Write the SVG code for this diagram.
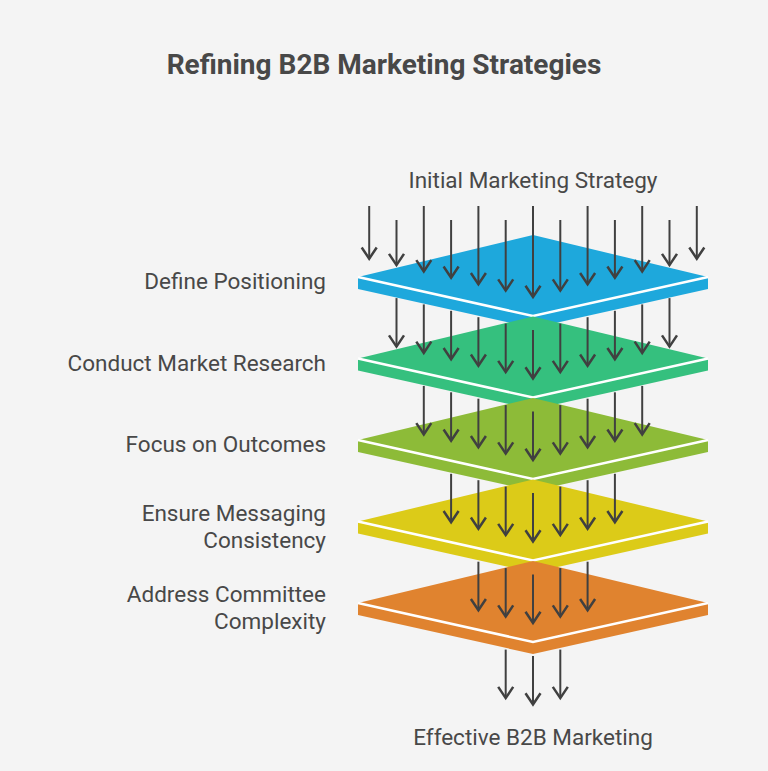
<svg xmlns="http://www.w3.org/2000/svg" width="768" height="771" viewBox="0 0 768 771">
<style>
text{font-family:Roboto,"Liberation Sans",sans-serif;fill:#484848}
.t{font-size:28px;font-weight:bold;text-anchor:middle}
.l{font-size:22.5px;text-anchor:end}
.c{font-size:22.5px;text-anchor:middle}
.a line{stroke:#404040;stroke-width:2;marker-end:url(#ah)}
.edge{fill:none;stroke:#fff;stroke-width:2.5}
</style>
<defs>
<marker id="ah" markerUnits="userSpaceOnUse" markerWidth="20" markerHeight="20" refX="0" refY="0" viewBox="-12 -8 14 16" orient="auto">
<path d="M-9,-6 L0,0 L-9,6" fill="none" stroke="#404040" stroke-width="2"/>
</marker>
</defs>
<rect width="768" height="771" fill="#f4f4f4"/>
<text class="t" x="384" y="74">Refining B2B Marketing Strategies</text>
<text class="c" x="533" y="188">Initial Marketing Strategy</text>
<text class="c" x="533" y="745">Effective B2B Marketing</text>
<g id="layer1"><path d="M533,235 L708,277 L708,289 L533,328 L358,289 L358,277 Z" fill="#1EA8DC"/><path class="edge" d="M358,277 L533,316 L708,277"/><text class="l" x="326" y="289">Define Positioning</text></g>
<g id="layer2" transform="translate(0,81.5)"><path d="M533,235 L708,277 L708,289 L533,328 L358,289 L358,277 Z" fill="#35C07E"/><path class="edge" d="M358,277 L533,316 L708,277"/><text class="l" x="326" y="289">Conduct Market Research</text></g>
<g id="layer3" transform="translate(0,163)"><path d="M533,235 L708,277 L708,289 L533,328 L358,289 L358,277 Z" fill="#8DBB38"/><path class="edge" d="M358,277 L533,316 L708,277"/><text class="l" x="326" y="289">Focus on Outcomes</text></g>
<g id="layer4" transform="translate(0,244.5)"><path d="M533,235 L708,277 L708,289 L533,328 L358,289 L358,277 Z" fill="#DCCB18"/><path class="edge" d="M358,277 L533,316 L708,277"/><text class="l" x="326" y="276">Ensure Messaging</text><text class="l" x="326" y="303">Consistency</text></g>
<g id="layer5" transform="translate(0,326)"><path d="M533,235 L708,277 L708,289 L533,328 L358,289 L358,277 Z" fill="#E0832F"/><path class="edge" d="M358,277 L533,316 L708,277"/><text class="l" x="326" y="276">Address Committee</text><text class="l" x="326" y="303">Complexity</text></g>
<g id="connectors" class="a">
<line x1="369.2" y1="206" x2="369.2" y2="258.7"/><line x1="396.5" y1="220" x2="396.5" y2="265.1"/><line x1="423.8" y1="206" x2="423.8" y2="271.4"/><line x1="451.1" y1="220" x2="451.1" y2="277.8"/><line x1="478.4" y1="206" x2="478.4" y2="284.2"/><line x1="505.7" y1="220" x2="505.7" y2="290.6"/><line x1="533" y1="206" x2="533" y2="297"/><line x1="560.3" y1="220" x2="560.3" y2="290.6"/><line x1="587.6" y1="206" x2="587.6" y2="284.2"/><line x1="614.9" y1="220" x2="614.9" y2="277.8"/><line x1="642.2" y1="206" x2="642.2" y2="271.4"/><line x1="669.5" y1="220" x2="669.5" y2="265.1"/><line x1="696.8" y1="206" x2="696.8" y2="258.7"/>
<line x1="396.5" y1="298.1" x2="396.5" y2="346.6"/><line x1="423.8" y1="304.4" x2="423.8" y2="352.9"/><line x1="451.1" y1="310.8" x2="451.1" y2="359.3"/><line x1="478.4" y1="317.2" x2="478.4" y2="365.7"/><line x1="505.7" y1="323.6" x2="505.7" y2="372.1"/><line x1="533" y1="330" x2="533" y2="378.5"/><line x1="560.3" y1="323.6" x2="560.3" y2="372.1"/><line x1="587.6" y1="317.2" x2="587.6" y2="365.7"/><line x1="614.9" y1="310.8" x2="614.9" y2="359.3"/><line x1="642.2" y1="304.4" x2="642.2" y2="352.9"/><line x1="669.5" y1="298.1" x2="669.5" y2="346.6"/>
<line x1="423.8" y1="385.9" x2="423.8" y2="434.4"/><line x1="451.1" y1="392.3" x2="451.1" y2="440.8"/><line x1="478.4" y1="398.7" x2="478.4" y2="447.2"/><line x1="505.7" y1="405.1" x2="505.7" y2="453.6"/><line x1="533" y1="411.5" x2="533" y2="460"/><line x1="560.3" y1="405.1" x2="560.3" y2="453.6"/><line x1="587.6" y1="398.7" x2="587.6" y2="447.2"/><line x1="614.9" y1="392.3" x2="614.9" y2="440.8"/><line x1="642.2" y1="385.9" x2="642.2" y2="434.4"/>
<line x1="451.1" y1="473.8" x2="451.1" y2="522.3"/><line x1="478.4" y1="480.2" x2="478.4" y2="528.7"/><line x1="505.7" y1="486.6" x2="505.7" y2="535.1"/><line x1="533" y1="493" x2="533" y2="541.5"/><line x1="560.3" y1="486.6" x2="560.3" y2="535.1"/><line x1="587.6" y1="480.2" x2="587.6" y2="528.7"/><line x1="614.9" y1="473.8" x2="614.9" y2="522.3"/>
<line x1="478.4" y1="561.7" x2="478.4" y2="610.2"/><line x1="505.7" y1="568.1" x2="505.7" y2="616.6"/><line x1="533" y1="574.5" x2="533" y2="623"/><line x1="560.3" y1="568.1" x2="560.3" y2="616.6"/><line x1="587.6" y1="561.7" x2="587.6" y2="610.2"/>
<line x1="505.7" y1="649.6" x2="505.7" y2="698.1"/><line x1="533" y1="656" x2="533" y2="704.5"/><line x1="560.3" y1="649.6" x2="560.3" y2="698.1"/>
</g>
</svg>
